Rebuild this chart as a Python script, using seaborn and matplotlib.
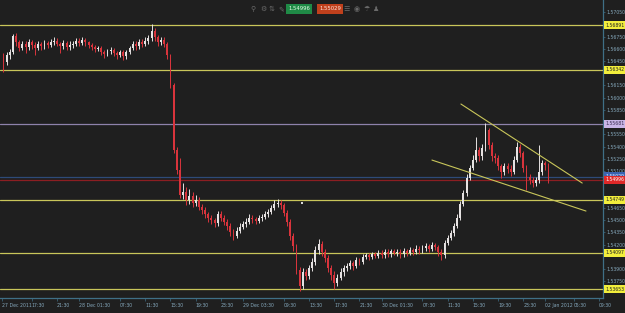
import matplotlib
matplotlib.use("Agg")
import matplotlib.pyplot as plt
import matplotlib.transforms as mtransforms
import numpy as np
import pandas as pd
import seaborn as sns

# ---------------- data ----------------
first_open = 1.5650
close = [1.5644, 1.5652, 1.5656, 1.5676, 1.5668, 1.5661, 1.5666, 1.5662, 1.5668, 1.5665,
         1.5661, 1.5666, 1.5663, 1.5667, 1.5665, 1.5668, 1.5670, 1.5666, 1.5663, 1.5667,
         1.5662, 1.5665, 1.5666, 1.5670, 1.5667, 1.5671, 1.5668, 1.5665, 1.5662, 1.5660,
         1.5661, 1.5656, 1.5654, 1.5657, 1.5658, 1.5655, 1.5652, 1.5656, 1.5651, 1.5656,
         1.5661, 1.5666, 1.5663, 1.5668, 1.5666, 1.5670, 1.5673, 1.5682, 1.5674, 1.5668,
         1.5671, 1.5666, 1.5652, 1.5616, 1.5536, 1.5511, 1.5481, 1.5484, 1.5475, 1.5480,
         1.5471, 1.5475, 1.5466, 1.5462, 1.5457, 1.5453, 1.5450, 1.5446, 1.5457, 1.5453,
         1.5448, 1.5443, 1.5435, 1.5431, 1.5437, 1.5442, 1.5445, 1.5448, 1.5453, 1.5451,
         1.5449, 1.5453, 1.5454, 1.5457, 1.5460, 1.5465, 1.5470, 1.5471, 1.5468, 1.5459,
         1.5448, 1.5431, 1.5418, 1.5389, 1.5369, 1.5386, 1.5381, 1.5391, 1.5399, 1.5413,
         1.5421, 1.5411, 1.5404, 1.5391, 1.5383, 1.5373, 1.5379, 1.5386, 1.5391, 1.5394,
         1.5397, 1.5394, 1.5401, 1.5399, 1.5405, 1.5407, 1.5405, 1.5408, 1.5406, 1.5410,
         1.5407, 1.5411, 1.5408, 1.5412, 1.5410, 1.5411, 1.5408, 1.5412, 1.5410, 1.5413,
         1.5411, 1.5415, 1.5413, 1.5416, 1.5418, 1.5415, 1.5419, 1.5417, 1.5411, 1.5407,
         1.5422, 1.5428, 1.5434, 1.5443, 1.5453, 1.5470, 1.5483, 1.5502, 1.5514, 1.5524,
         1.5536, 1.5528, 1.5538, 1.5560, 1.5542, 1.5528, 1.5526, 1.5516, 1.5509, 1.5516,
         1.5513, 1.5509, 1.5524, 1.5540, 1.5532, 1.5514, 1.5503, 1.5499, 1.5495, 1.5499,
         1.5509, 1.5520, 1.5517, 1.54996]
high = [1.5655, 1.5656, 1.5660, 1.5678, 1.5679, 1.5671, 1.5670, 1.5669, 1.5672, 1.5671,
        1.5668, 1.5669, 1.5668, 1.5671, 1.5670, 1.5672, 1.5674, 1.5673, 1.5668, 1.5671,
        1.5670, 1.5669, 1.5670, 1.5673, 1.5673, 1.5675, 1.5673, 1.5670, 1.5667, 1.5665,
        1.5664, 1.5663, 1.5659, 1.5660, 1.5662, 1.5661, 1.5657, 1.5659, 1.5658, 1.5659,
        1.5664, 1.5670, 1.5669, 1.5672, 1.5672, 1.5674, 1.5677, 1.5690, 1.5685, 1.5677,
        1.5675, 1.5674, 1.5668, 1.5654, 1.5618, 1.5540, 1.5526, 1.5496, 1.5490, 1.5488,
        1.5484, 1.5481, 1.5478, 1.5470, 1.5466, 1.5460, 1.5456, 1.5453, 1.5461, 1.5461,
        1.5456, 1.5451, 1.5446, 1.5439, 1.5441, 1.5446, 1.5449, 1.5452, 1.5457, 1.5456,
        1.5454, 1.5456, 1.5458, 1.5461, 1.5464, 1.5469, 1.5475, 1.5476, 1.5475, 1.5471,
        1.5462, 1.5451, 1.5434, 1.5421, 1.5392, 1.5391, 1.5390, 1.5395, 1.5404, 1.5418,
        1.5427, 1.5424, 1.5414, 1.5407, 1.5395, 1.5387, 1.5384, 1.5391, 1.5395, 1.5398,
        1.5401, 1.5400, 1.5405, 1.5404, 1.5408, 1.5410, 1.5410, 1.5411, 1.5411, 1.5413,
        1.5413, 1.5414, 1.5414, 1.5415, 1.5415, 1.5414, 1.5414, 1.5416, 1.5415, 1.5417,
        1.5416, 1.5419, 1.5418, 1.5420, 1.5422, 1.5421, 1.5423, 1.5422, 1.5420, 1.5414,
        1.5426, 1.5432, 1.5438, 1.5447, 1.5457, 1.5474, 1.5487, 1.5506, 1.5518, 1.5530,
        1.5552, 1.5540, 1.5543, 1.5569, 1.5563, 1.5546, 1.5532, 1.5530, 1.5519, 1.5520,
        1.5520, 1.5517, 1.5528, 1.5546, 1.5543, 1.5535, 1.5517, 1.5507, 1.5503, 1.5503,
        1.5542, 1.5524, 1.5523, 1.5520]
low = [1.5632, 1.5640, 1.5648, 1.5653, 1.5664, 1.5657, 1.5658, 1.5655, 1.5659, 1.5660,
       1.5652, 1.5658, 1.5659, 1.5660, 1.5661, 1.5662, 1.5665, 1.5663, 1.5655, 1.5660,
       1.5658, 1.5659, 1.5661, 1.5663, 1.5664, 1.5665, 1.5664, 1.5661, 1.5658, 1.5656,
       1.5657, 1.5652, 1.5649, 1.5651, 1.5654, 1.5651, 1.5648, 1.5650, 1.5646, 1.5648,
       1.5653, 1.5658, 1.5659, 1.5660, 1.5662, 1.5663, 1.5666, 1.5670, 1.5670, 1.5664,
       1.5665, 1.5662, 1.5648, 1.5612, 1.5532, 1.5506, 1.5477, 1.5476, 1.5468, 1.5470,
       1.5466, 1.5467, 1.5462, 1.5457, 1.5453, 1.5448, 1.5445, 1.5441, 1.5443, 1.5449,
       1.5444, 1.5438, 1.5431, 1.5426, 1.5428, 1.5434, 1.5439, 1.5442, 1.5445, 1.5447,
       1.5445, 1.5446, 1.5449, 1.5451, 1.5454, 1.5457, 1.5462, 1.5466, 1.5463, 1.5455,
       1.5443, 1.5426, 1.5412, 1.5384, 1.5363, 1.5366, 1.5376, 1.5378, 1.5387, 1.5395,
       1.5409, 1.5406, 1.5399, 1.5386, 1.5377, 1.5366, 1.5369, 1.5376, 1.5382, 1.5387,
       1.5390, 1.5389, 1.5391, 1.5395, 1.5396, 1.5402, 1.5401, 1.5402, 1.5403, 1.5403,
       1.5404, 1.5404, 1.5405, 1.5405, 1.5407, 1.5406, 1.5404, 1.5405, 1.5406, 1.5407,
       1.5407, 1.5408, 1.5409, 1.5410, 1.5412, 1.5411, 1.5412, 1.5413, 1.5406, 1.5401,
       1.5404, 1.5419, 1.5425, 1.5431, 1.5440, 1.5450, 1.5467, 1.5480, 1.5499, 1.5511,
       1.5521, 1.5523, 1.5524, 1.5535, 1.5537, 1.5523, 1.5520, 1.5511, 1.5502, 1.5505,
       1.5508, 1.5504, 1.5506, 1.5521, 1.5527, 1.5509, 1.5487, 1.5494, 1.5491, 1.5492,
       1.5496, 1.5505, 1.5512, 1.5495]

yellow_levels = [1.56891, 1.56342, 1.54749, 1.54097, 1.53653]
purple_level = 1.55681
bid_price = 1.54996
ask_price = 1.55029
trend_upper_x = [145.2, 183.7]
trend_upper_y = [1.55923, 1.54954]
trend_lower_x = [136.0, 184.9]
trend_lower_y = [1.55236, 1.54611]
marker_x = [94.8]
marker_y = [1.54709]

tick_pos = [-0.5, 9, 17, 24, 37, 45, 53, 61, 69, 76, 89, 97, 105, 113, 120,
            133, 141, 149, 157, 165, 172, 181, 189]
tick_labels = ["27 Dec 2011", "17:30", "21:30", "28 Dec 01:30", "07:30", "11:30",
               "15:30", "19:30", "23:30", "29 Dec 03:30", "09:30", "13:30", "17:30",
               "21:30", "30 Dec 01:30", "07:30", "11:30", "15:30", "19:30", "23:30",
               "02 Jan 2012", "05:30", "09:30"]
ytick_vals = [1.53750, 1.53900, 1.54200, 1.54350, 1.54500, 1.54650,
              1.55100, 1.55250, 1.55400, 1.55550, 1.55850,
              1.56000, 1.56150, 1.56450, 1.56600, 1.56750, 1.57050]

# ---------------- style ----------------
bg = "#1f1f1f"
axis_col = "#3f6f86"
label_col = "#86a9bd"
yellow = "#c9c65a"
sns.set_theme(style="dark", rc={"axes.facecolor": bg, "figure.facecolor": bg,
                                "axes.edgecolor": axis_col, "axes.grid": False})
plt.rcParams["font.family"] = ["DejaVu Sans"]

df = pd.DataFrame({"i": np.arange(len(close)), "close": close, "high": high, "low": low})
df["open"] = [first_open] + close[:-1]
df["bull"] = df["close"] >= df["open"]
df["color"] = np.where(df["bull"], "#e6e2e2", "#d8343c")
df["bottom"] = df[["open", "close"]].min(axis=1)
df["body"] = (df["close"] - df["open"]).abs().clip(lower=0.00005)

fig = plt.figure(figsize=(6.25, 3.13), dpi=100)
ax = fig.add_axes([0, 15 / 313, 603 / 625, 298 / 313])
ax.set_facecolor(bg)

# horizontal levels
for lv in yellow_levels:
    ax.axhline(lv, color=yellow, lw=0.9, zorder=1)
ax.axhline(purple_level, color="#8e82ab", lw=0.9, zorder=1)
ax.axhline(ask_price, color="#2e4a78", lw=0.9, zorder=1)
ax.axhline(bid_price, color="#8c1e22", lw=0.9, zorder=1)

# candles
ax.vlines(df["i"], df["low"], df["high"], colors=df["color"], lw=0.7, zorder=3)
ax.bar(df["i"], df["body"], bottom=df["bottom"], width=0.6, color=df["color"],
       linewidth=0, zorder=4)

# trend lines
sns.lineplot(x=trend_upper_x, y=trend_upper_y, color=yellow, lw=0.8, ax=ax, zorder=5)
sns.lineplot(x=trend_lower_x, y=trend_lower_y, color=yellow, lw=0.8, ax=ax, zorder=5)
sns.scatterplot(x=marker_x, y=marker_y, color="#d8d8d8", s=3, marker="s",
                linewidth=0, ax=ax, zorder=5)

ax.set_xlim(-1.11, 190.3)
ax.set_ylim(1.53545, 1.57198)

# axes / ticks
for s in ["top", "left"]:
    ax.spines[s].set_visible(False)
ax.spines["right"].set_color(axis_col)
ax.spines["bottom"].set_color(axis_col)
ax.spines["right"].set_linewidth(0.9)
ax.spines["bottom"].set_linewidth(0.9)
ax.yaxis.tick_right()
ax.set_yticks(ytick_vals)
ax.set_yticklabels([f"{v:.5f}" for v in ytick_vals])
ax.set_xticks(tick_pos)
ax.set_xticklabels(tick_labels, ha="left")
ax.tick_params(axis="y", which="both", right=True, left=False, length=1.5, width=0.5,
               color=axis_col, labelsize=3.3, labelcolor=label_col, pad=1.0)
ax.tick_params(axis="x", which="both", bottom=True, length=2, width=0.5,
               color=axis_col, labelsize=3.3, labelcolor=label_col, pad=1.5)
ax.set_xlabel("")
ax.set_ylabel("")

# price labels on the right axis
trans = mtransforms.blended_transform_factory(ax.transAxes, ax.transData)
def price_box(val, fc, tc, dy=0.0):
    ax.text(1.004, val + dy, f"{val:.5f}", transform=trans, fontsize=3.3, color=tc,
            ha="left", va="center", clip_on=False, zorder=20,
            bbox=dict(boxstyle="square,pad=0.3", fc=fc, ec="none"))
for lv in yellow_levels:
    price_box(lv, "#f2ee3c", "#222222")
price_box(purple_level, "#c8b4e6", "#3a2a50")
price_box(ask_price, "#3a63b0", "#e8e8ff", dy=0.00008)
price_box(bid_price, "#e02828", "#ffffff", dy=-0.00002)

# toolbar at top
fig.text(299 / 625, 1 - 9 / 313, "1.54996", fontsize=3.8, color="#e8ffe8",
         ha="center", va="center",
         bbox=dict(boxstyle="square,pad=0.45", fc="#1f8a46", ec="none"))
fig.text(330 / 625, 1 - 9 / 313, "1.55029", fontsize=3.8, color="#ffe8e0",
         ha="center", va="center",
         bbox=dict(boxstyle="square,pad=0.45", fc="#c0401c", ec="none"))
for xp, g in zip([253, 263, 272, 281, 347, 357, 367, 376],
                 ["⚲", "⚙", "⇅", "✎", "☰", "◉", "☂", "♟"]):
    fig.text(xp / 625, 1 - 9 / 313, g, fontsize=5, color="#6a6a6a",
             ha="center", va="center")

fig.savefig("out.png", dpi=100, facecolor=bg)
